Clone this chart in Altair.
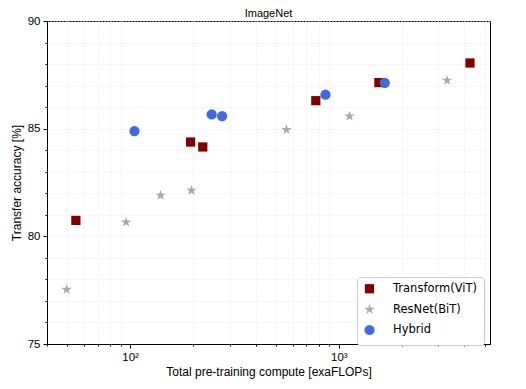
import altair as alt
import pandas as pd

# ---- data ----
vit_x = [55, 195, 223, 776, 1556, 4250]
vit_y = [80.74, 84.38, 84.15, 86.30, 87.14, 88.05]

bit_x = [49.7, 95.7, 140, 197, 561, 1125, 3300]
bit_y = [77.53, 80.66, 81.90, 82.13, 84.95, 85.58, 87.24]

hyb_x = [105, 246, 276, 863, 1661]
hyb_y = [84.89, 85.66, 85.58, 86.58, 87.13]

series = ["Transform(ViT)", "ResNet(BiT)", "Hybrid"]
colors = ["#800000", "#a9a9a9", "#4169e1"]
marker_sizes = [85, 120, 105]

y_major = [75, 80, 85, 90]
y_minor = list(range(75, 91))
x_major = [100, 1000]
x_minor = [40, 50, 60, 70, 80, 90, 200, 300, 400, 500, 600, 700, 800, 900,
           2000, 3000, 4000, 5000]

rows = []
for name, xs, ys in zip(series, [vit_x, bit_x, hyb_x], [vit_y, bit_y, hyb_y]):
    for a, b in zip(xs, ys):
        rows.append({"compute": a, "acc": b, "model": name})
df = pd.DataFrame(rows)

star = ("M0,-1L0.2245,-0.309L0.951,-0.309L0.363,0.118L0.588,0.809L0,0.382"
        "L-0.588,0.809L-0.363,0.118L-0.951,-0.309L-0.2245,-0.309Z")
shapes = ["square", star, "circle"]

xscale = alt.Scale(type="log", domain=[40, 5300], nice=False)
yscale = alt.Scale(domain=[75, 90], nice=False, zero=False)

minor = alt.Chart(df).mark_point(opacity=0).encode(
    x=alt.X("compute:Q", scale=xscale,
            axis=alt.Axis(orient="bottom", values=x_minor, labels=False, title=None,
                          domain=False, tickSize=2, tickColor="#000",
                          grid=True, gridColor="#e4e4e4", gridDash=[1, 2])),
    y=alt.Y("acc:Q", scale=yscale,
            axis=alt.Axis(orient="left", values=y_minor, labels=False, title=None,
                          domain=False, tickSize=2, tickColor="#000",
                          grid=True, gridColor="#e4e4e4", gridDash=[1, 2])),
)

main = alt.Chart(df).mark_point(filled=True, opacity=1).encode(
    x=alt.X("compute:Q", scale=xscale,
            axis=alt.Axis(orient="bottom", values=x_major,
                          labelExpr="datum.value == 100 ? '10²' : '10³'",
                          title="Total pre-training compute [exaFLOPs]",
                          domainColor="#000", tickColor="#000", tickSize=4,
                          gridColor="#cccccc")),
    y=alt.Y("acc:Q", scale=yscale,
            axis=alt.Axis(orient="left", values=y_major,
                          title="Transfer accuracy [%]",
                          domainColor="#000", tickColor="#000", tickSize=4,
                          gridColor="#cccccc")),
    color=alt.Color("model:N", scale=alt.Scale(domain=series, range=colors),
                    legend=alt.Legend(title=None, orient="none",
                                      legendX=310, legendY=256,
                                      labelFont="DejaVu Sans", labelFontSize=11.5,
                                      labelColor="#000",
                                      symbolSize=75, rowPadding=4, labelOffset=17,
                                      padding=6, strokeColor="#cccccc",
                                      cornerRadius=3, fillColor="white",
                                      symbolOpacity=1)),
    shape=alt.Shape("model:N", scale=alt.Scale(domain=series, range=shapes)),
    size=alt.Size("model:N",
                  scale=alt.Scale(type="ordinal", domain=series, range=marker_sizes),
                  legend=None),
)

chart = alt.layer(minor, main).resolve_axis(x="independent", y="independent").properties(
    width=443, height=323,
    title=alt.TitleParams("ImageNet", font="Liberation Sans", fontSize=11,
                          fontWeight="normal", offset=-4, color="#000",
                          frame="group"),
    autosize=alt.AutoSizeParams(type="none"),
    padding={"left": 39, "top": 13, "right": 28, "bottom": 37},
).configure_axis(
    labelFont="Liberation Sans", labelFontSize=11.5, labelColor="#000",
    titleFont="Liberation Sans", titleFontSize=12, titleFontWeight="normal",
    titleColor="#000", labelPadding=3,
).configure_view(stroke="#000", strokeWidth=1)

chart.save("out.html", embed_options={"renderer": "svg", "actions": False})
